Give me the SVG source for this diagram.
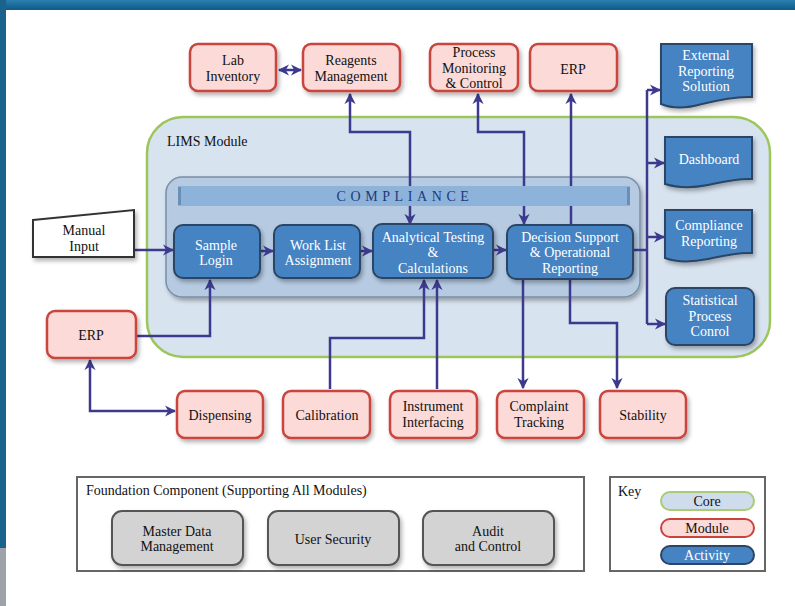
<svg xmlns="http://www.w3.org/2000/svg" width="795" height="606" viewBox="0 0 795 606">
<defs>
<linearGradient id="band" x1="0" y1="0" x2="0" y2="1"><stop offset="0" stop-color="#2a7fb0"/><stop offset="1" stop-color="#0f5a86"/></linearGradient>
<filter id="sh" x="-20%" y="-20%" width="140%" height="150%"><feDropShadow dx="2" dy="3" stdDeviation="2" flood-color="#000" flood-opacity="0.3"/></filter>
<marker id="ah" viewBox="0 0 10 10" refX="9" refY="5" markerWidth="4.5" markerHeight="4.5" orient="auto-start-reverse" markerUnits="strokeWidth"><path d="M0,0 L10,5 L0,10 L3,5 z" fill="#3d3a8e"/></marker>
<style>
text{font-family:"Liberation Serif","Times New Roman",serif;font-size:14px;fill:#111;}
.c{text-anchor:middle;}
.w{fill:#fff;}
.mod{fill:#fbdad8;stroke:#c9443e;stroke-width:2.5;filter:url(#sh);}
.act{fill:#4583c3;stroke:#2a4566;stroke-width:2;filter:url(#sh);}
.fnd{fill:#d3d3d3;stroke:#555;stroke-width:2;filter:url(#sh);}
.cn{fill:none;stroke:#3d3a8e;stroke-width:2.5;}
.ar{marker-end:url(#ah);}
.ab{marker-start:url(#ah);marker-end:url(#ah);}
</style>
</defs>
<rect width="795" height="606" fill="#fff"/>
<rect x="0" y="0" width="795" height="10" fill="url(#band)"/>
<rect x="0" y="0" width="6" height="548" fill="#1b628c"/>
<rect x="0" y="548" width="6" height="58" fill="#9ea3aa"/>

<g id="lims">
<rect x="147" y="117" width="623" height="240" rx="36" fill="#d7e3ef" stroke="#9cc55a" stroke-width="2.5"/>
<text x="167" y="146" font-size="15">LIMS Module</text>
</g>
<g id="compliance">
<rect x="166" y="177" width="474" height="120" rx="16" fill="#b6cbe2" stroke="#7a8fa6" stroke-width="1.5" filter="url(#sh)"/>
</g>

<g id="connectors">
<line class="cn ab" x1="279" y1="70" x2="301" y2="70"/>
<path class="cn" d="M350,94 V132 H410 V224" marker-start="url(#ah)" marker-end="url(#ah)"/>
<path class="cn" d="M478,94 V132 H524 V224" marker-start="url(#ah)" marker-end="url(#ah)"/>
<path class="cn ar" d="M571,225 V94"/>
<path class="cn" d="M633,250 H647"/>
<path class="cn" d="M647,324 V90"/>
<path class="cn ar" d="M647,90 H660"/>
<path class="cn ar" d="M647,163 H664"/>
<path class="cn ar" d="M647,237 H664"/>
<path class="cn ar" d="M647,324 H665"/>
<path class="cn ar" d="M134,250 H173"/>
<path class="cn ar" d="M260,251 H273"/>
<path class="cn ar" d="M360,251 H372"/>
<path class="cn ar" d="M493,250 H506"/>
<path class="cn ar" d="M136,336 H210 V280"/>
<path class="cn ab" d="M90,360 V411 H175"/>
<path class="cn ar" d="M330,389 V338 H424 V280"/>
<path class="cn ar" d="M437,389 V280"/>
<path class="cn ar" d="M523,280 V388"/>
<path class="cn ar" d="M570,280 V323 H617 V388"/>
</g>

<g id="compliance-bar">
<rect x="178" y="186" width="452" height="20" fill="#8db3db"/>
<rect x="178" y="187" width="3" height="18" fill="#6a8fb5"/>
<rect x="627" y="187" width="3" height="18" fill="#6a8fb5"/>
<text x="405" y="201" class="c" font-size="14" letter-spacing="4.6" style="fill:#1d3a7a">COMPLIANCE</text>
</g>

<g id="lab-inventory"><rect class="mod" x="190" y="44" width="86" height="47" rx="8"/><text class="c" x="233" y="65">Lab</text><text class="c" x="233" y="80.5">Inventory</text></g>
<g id="reagents"><rect class="mod" x="303" y="44" width="97" height="47" rx="8"/><text class="c" x="351" y="65">Reagents</text><text class="c" x="351" y="80.5">Management</text></g>
<g id="process-monitoring"><rect class="mod" x="430" y="44" width="88" height="47" rx="8"/><text class="c" x="474" y="57">Process</text><text class="c" x="474" y="72.5">Monitoring</text><text class="c" x="474" y="88">&amp; Control</text></g>
<g id="erp-top"><rect class="mod" x="530" y="44" width="87" height="47" rx="8"/><text class="c" x="573" y="74">ERP</text></g>
<g id="external-reporting"><path class="act" d="M661,44 H752 V97 C735,96 718,100 702,104 C688,108 673,109 661,104 Z"/><text class="c w" x="706" y="60">External</text><text class="c w" x="706" y="75.5">Reporting</text><text class="c w" x="706" y="91">Solution</text></g>
<g id="dashboard"><path class="act" d="M665,137 H752 V179 C737,178 722,182 708,185 C693,188 678,188 665,184 Z"/><text class="c w" x="709" y="164">Dashboard</text></g>
<g id="compliance-reporting"><path class="act" d="M665,210 H752 V253 C737,252 722,256 708,259 C693,262 678,263 665,258 Z"/><text class="c w" x="709" y="230">Compliance</text><text class="c w" x="709" y="245.5">Reporting</text></g>
<g id="spc"><rect class="act" x="666" y="288" width="88" height="57" rx="9"/><text class="c w" x="710" y="305">Statistical</text><text class="c w" x="710" y="320.5">Process</text><text class="c w" x="710" y="336">Conrol</text></g>

<g id="manual-input"><path d="M33,220 L134,210 V257 H33 Z" fill="#fff" stroke="#333" stroke-width="2" filter="url(#sh)"/><text class="c" x="84" y="235">Manual</text><text class="c" x="84" y="250.5">Input</text></g>
<g id="sample-login"><rect class="act" x="174" y="225" width="86" height="53" rx="9"/><text class="c w" x="216" y="249.5">Sample</text><text class="c w" x="216" y="265">Login</text></g>
<g id="work-list"><rect class="act" x="274" y="225" width="86" height="53" rx="9"/><text class="c w" x="318" y="249.5">Work List</text><text class="c w" x="318" y="265">Assignment</text></g>
<g id="analytical"><rect class="act" x="373" y="224" width="120" height="54" rx="9"/><text class="c w" x="433" y="241.5">Analytical Testing</text><text class="c w" x="433" y="257">&amp;</text><text class="c w" x="433" y="272.5">Calculations</text></g>
<g id="decision"><rect class="act" x="507" y="225" width="126" height="54" rx="9"/><text class="c w" x="570" y="241.5">Decision Support</text><text class="c w" x="570" y="257">&amp; Operational</text><text class="c w" x="570" y="272.5">Reporting</text></g>

<g id="erp-left"><rect class="mod" x="47" y="311" width="89" height="47" rx="8"/><text class="c" x="91" y="340">ERP</text></g>
<g id="dispensing"><rect class="mod" x="177" y="391" width="86" height="47" rx="8"/><text class="c" x="220" y="420">Dispensing</text></g>
<g id="calibration"><rect class="mod" x="283" y="391" width="87" height="47" rx="8"/><text class="c" x="327" y="420">Calibration</text></g>
<g id="instrument"><rect class="mod" x="390" y="391" width="87" height="47" rx="8"/><text class="c" x="433" y="411">Instrument</text><text class="c" x="433" y="426.5">Interfacing</text></g>
<g id="complaint"><rect class="mod" x="497" y="391" width="87" height="47" rx="8"/><text class="c" x="539" y="411">Complaint</text><text class="c" x="539" y="426.5">Tracking</text></g>
<g id="stability"><rect class="mod" x="600" y="391" width="86" height="47" rx="8"/><text class="c" x="643" y="420">Stability</text></g>

<g id="foundation">
<rect x="77" y="477" width="507" height="94" fill="#fff" stroke="#666" stroke-width="2"/>
<text x="86" y="495">Foundation Component (Supporting All Modules)</text>
</g>
<g id="master-data"><rect class="fnd" x="112" y="511" width="131" height="54" rx="10"/><text class="c" x="177" y="535.5">Master Data</text><text class="c" x="177" y="551">Management</text></g>
<g id="user-security"><rect class="fnd" x="268" y="511" width="131" height="54" rx="10"/><text class="c" x="333" y="544">User Security</text></g>
<g id="audit"><rect class="fnd" x="423" y="511" width="131" height="54" rx="10"/><text class="c" x="488" y="535.5">Audit</text><text class="c" x="488" y="551">and Control</text></g>

<g id="key">
<rect x="610" y="477" width="155" height="94" fill="#fff" stroke="#666" stroke-width="2"/>
<text x="618" y="496">Key</text>
<rect x="661" y="492" width="93" height="18" rx="9" fill="#cfdcec" stroke="#a8cc74" stroke-width="2"/>
<text class="c" x="707" y="506">Core</text>
<rect x="661" y="519" width="93" height="18" rx="9" fill="#fbdad8" stroke="#c9443e" stroke-width="2"/>
<text class="c" x="707" y="533">Module</text>
<rect x="661" y="546" width="93" height="18" rx="9" fill="#4583c3" stroke="#2a4566" stroke-width="2"/>
<text class="c w" x="707" y="560">Activity</text>
</g>
</svg>
